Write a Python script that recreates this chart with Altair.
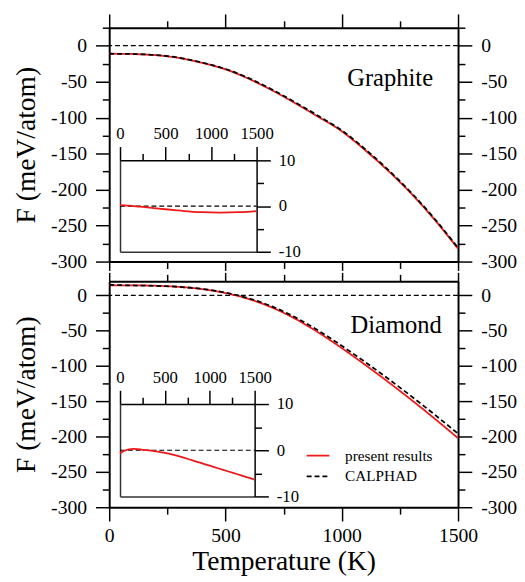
import altair as alt
import pandas as pd

# ---------------- data ----------------
T = [0, 100, 200, 300, 400, 500, 600, 700, 800, 900, 1000, 1100, 1200, 1300, 1400, 1500]
graphite_present = [-11.0, -11.5, -13.0, -17.0, -24.0, -33.0, -46.0, -62.0, -80.0, -99.0,
                    -119.0, -145.0, -174.0, -206.0, -242.0, -282.0]
graphite_calphad = [-11.2, -11.6, -12.9, -16.7, -23.5, -32.3, -45.1, -60.9, -78.8, -97.7,
                    -117.6, -143.6, -172.6, -204.7, -240.8, -280.9]
diamond_present = [14.3, 14.2, 13.6, 12.0, 8.8, 3.3, -5.2, -17.2, -33.2, -52.7,
                   -74.7, -98.2, -122.7, -148.2, -174.7, -202.2]
diamond_calphad = [15.0, 14.0, 13.4, 12.0, 9.1, 3.9, -4.2, -15.7, -31.1, -50.0,
                   -71.4, -94.3, -118.2, -143.1, -169.0, -195.9]

T_inset = [0, 50, 100, 150, 200, 250, 300, 400, 500, 600, 700, 800, 900, 1000,
           1100, 1200, 1300, 1400, 1500]
graphite_diff = [0.2, 0.17, 0.1, 0.0, -0.1, -0.2, -0.3, -0.5, -0.7, -0.9, -1.1, -1.25,
                 -1.35, -1.4, -1.42, -1.4, -1.35, -1.25, -1.1]
diamond_diff = [-0.7, -0.1, 0.2, 0.3, 0.25, 0.1, 0.0, -0.25, -0.55, -1.0, -1.55, -2.15,
                -2.75, -3.35, -3.95, -4.55, -5.15, -5.75, -6.35]

x_major = [0, 500, 1000, 1500]
x_minor = [250, 750, 1250]
inset_y_major = [-10, 0, 10]
inset_y_minor = [-5, 5]
series = ["present results", "CALPHAD"]

FONT = "Liberation Serif"
RED = "#f01818"
W = 355


def axis(orient, values, tick, labels=False, title=None, size=20, pad=9, domain=True,
         offset=0, dw=2.0, tw=1.5, dcolor="black", title_pad=8):
    return alt.Axis(
        orient=orient, values=values, tickSize=tick, ticks=tick > 0, labels=labels,
        domain=domain, grid=False, offset=offset, domainWidth=dw, domainColor=dcolor,
        tickColor="black", tickWidth=tw, labelFont=FONT, labelFontSize=size,
        labelColor="black", labelPadding=pad, labelFlush=False, labelOverlap=False,
        labelExpr="'' + datum.value", titleFont=FONT, titleFontSize=28,
        titleFontWeight="normal", titleColor="black", titlePadding=title_pad, title=title,
        minExtent=0,
    )


def panel(present, calphad, diff, ymax, H, inset_x, inset_y, label, label_T, label_F, bottom):
    sx = alt.Scale(domain=[0, 1500], nice=False, zero=False)
    sy = alt.Scale(domain=[-300, ymax], nice=False, zero=False)
    y_major = list(range(-300, 1, 50))
    y_minor = [v for v in range(-300, ymax + 1, 25) if v % 50 != 0]

    dfp = pd.DataFrame({"T": T, "F": present, "src": series[0]})
    dfc = pd.DataFrame({"T": T, "F": calphad, "src": series[1]})

    zero = alt.Chart(pd.DataFrame({"z": [0]})).mark_rule(
        color="black", strokeDash=[5, 3], strokeWidth=1.2
    ).encode(y=alt.Y("z:Q", scale=sy, axis=None))

    # ticks between the two panels are shorter so that they meet in the gap
    xt_bottom = 14 if bottom else 9
    xt_top = 9 if bottom else 14
    xa = alt.X("T:Q", scale=sx,
               axis=axis("bottom", x_major, xt_bottom, labels=bottom,
                         title="Temperature (K)" if bottom else None, pad=5, title_pad=2))
    ya = alt.Y("F:Q", scale=sy,
               axis=axis("left", y_major, 14, labels=True, title="F (meV/atom)", pad=9,
                         title_pad=10))
    xb = alt.X("T:Q", scale=sx, axis=axis("bottom", x_minor, 7, domain=False))
    yb = alt.Y("F:Q", scale=sy, axis=axis("left", y_minor, 7, domain=False))

    line_kw = dict(strokeWidth=1.8, interpolate="monotone")
    if bottom:
        leg = alt.Legend(orient="none", legendX=200, legendY=165, title=None,
                         symbolType="stroke", symbolSize=529, symbolStrokeWidth=1.8,
                         labelFont=FONT, labelFontSize=15.5, labelColor="black",
                         labelOffset=15, rowPadding=-5, padding=0)
        color = alt.Color("src:N", scale=alt.Scale(domain=series, range=[RED, "black"]),
                          legend=leg)
        dash = alt.StrokeDash("src:N",
                              scale=alt.Scale(domain=series, range=[[1, 0], [5, 3]]),
                              legend=leg)
        A = alt.Chart(dfp).mark_line(**line_kw).encode(x=xa, y=ya, color=color, strokeDash=dash)
        B = alt.Chart(dfc).mark_line(**line_kw).encode(x=xb, y=yb, color=color, strokeDash=dash)
    else:
        A = alt.Chart(dfp).mark_line(color=RED, **line_kw).encode(x=xa, y=ya)
        B = alt.Chart(dfc).mark_line(color="black", strokeDash=[5, 3], **line_kw).encode(x=xb, y=yb)

    C = alt.Chart(dfp).mark_point(opacity=0).encode(
        x=alt.X("T:Q", scale=sx, axis=axis("top", x_major, xt_top)),
        y=alt.Y("F:Q", scale=sy, axis=axis("right", y_major, 14, labels=True, pad=9)),
    )
    D = alt.Chart(dfp).mark_point(opacity=0).encode(
        x=alt.X("T:Q", scale=sx, axis=axis("top", x_minor, 7, domain=False)),
        y=alt.Y("F:Q", scale=sy, axis=axis("right", y_minor, 7, domain=False)),
    )
    txt = alt.Chart(pd.DataFrame({"t": [label], "x": [label_T], "y": [label_F]})).mark_text(
        font=FONT, fontSize=25, color="black"
    ).encode(
        x=alt.X("x:Q", scale=sx, axis=None),
        y=alt.Y("y:Q", scale=sy, axis=None),
        text="t:N",
    )
    main = alt.layer(zero, A, B, C, D, txt).resolve_axis(x="independent", y="independent")

    # ----- inset (difference present - CALPHAD) -----
    isx = alt.Scale(domain=[0, 1500], range=inset_x, nice=False, zero=False)
    isy = alt.Scale(domain=[-10, 10], range=inset_y, nice=False, zero=False)
    ddf = pd.DataFrame({"T": T_inset, "D": diff})
    E = alt.Chart(pd.DataFrame({"x0": [T[0]], "x1": [T[-1]], "z": [0]})).mark_rule(
        color="black", strokeDash=[5, 3], strokeWidth=1.2
    ).encode(
        x=alt.X("x0:Q", scale=isx, axis=None), x2="x1:Q",
        y=alt.Y("z:Q", scale=isy, axis=None),
    )
    Fl = alt.Chart(ddf).mark_line(color=RED, **line_kw).encode(
        x=alt.X("T:Q", scale=isx,
                axis=axis("top", x_major, 14, labels=True, size=17, pad=4,
                          offset=-inset_y[1], dw=1.5)),
        y=alt.Y("D:Q", scale=isy,
                axis=axis("right", inset_y_major, 14, labels=True, size=17, pad=8,
                          offset=inset_x[1] - W, dw=1.5)),
    )
    G = alt.Chart(ddf).mark_point(opacity=0).encode(
        x=alt.X("T:Q", scale=isx,
                axis=axis("top", x_minor, 7, domain=False, offset=-inset_y[1])),
        y=alt.Y("D:Q", scale=isy,
                axis=axis("right", inset_y_minor, 7, domain=False, offset=inset_x[1] - W)),
    )
    Hf = alt.Chart(ddf).mark_point(opacity=0).encode(
        x=alt.X("T:Q", scale=isx,
                axis=axis("bottom", x_major, 0, offset=inset_y[0] - H, dw=1.5, dcolor="#333")),
        y=alt.Y("D:Q", scale=isy,
                axis=axis("left", inset_y_major, 0, offset=-inset_x[0], dw=1.5, dcolor="#333")),
    )
    inset = alt.layer(E, Fl, G, Hf).resolve_axis(x="independent", y="independent")

    return alt.layer(main, inset).resolve_scale(x="independent", y="independent").properties(
        width=W, height=H
    )


top = panel(graphite_present, graphite_calphad, graphite_diff, 25, 238,
            [11, 150], [228, 135], "Graphite", 1208, -44.7, False)
bot = panel(diamond_present, diamond_calphad, diamond_diff, 20, 230,
            [11, 148], [219, 125], "Diamond", 1234, -41.7, True)

chart = alt.vconcat(top, bot, spacing=0).resolve_scale(
    color="independent", strokeDash="independent"
).properties(
    padding={"left": 5, "top": 0, "right": 0, "bottom": 0}
).configure_view(stroke=None)

chart.save("out.html", embed_options={"renderer": "svg", "actions": False})
